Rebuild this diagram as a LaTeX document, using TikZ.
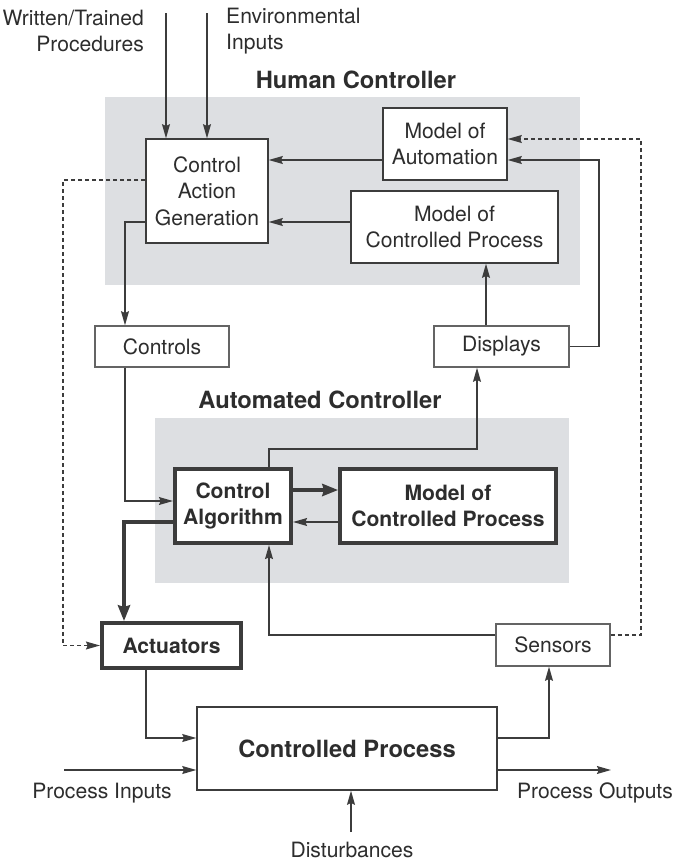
\documentclass[tikz,border=0pt]{standalone}
\usepackage{fontspec}
\setmainfont{TeX Gyre Heros}
\usetikzlibrary{arrows.meta,positioning,calc}
\definecolor{ink}{RGB}{45,45,45}
\definecolor{wire}{RGB}{60,60,60}
\definecolor{boxgray}{RGB}{100,100,100}
\definecolor{panel}{RGB}{221,223,226}

\begin{document}
\begin{tikzpicture}[x=0.02cm, y=-0.02cm,
    every node/.style={text=ink, font=\fontsize{12}{15}\selectfont},
    box/.style={rectangle, draw=wire, fill=white, line width=0.8pt, align=center, inner sep=0pt},
    lightbox/.style={box, draw=boxgray},
    heavybox/.style={box, line width=2.3pt, font=\fontsize{12}{15}\selectfont\bfseries},
    title/.style={font=\fontsize{13.5}{16}\selectfont\bfseries},
    arr/.style={draw=wire, line width=0.8pt, -{Stealth[length=8pt,width=4.5pt,inset=1pt]}},
    heavyarr/.style={draw=wire, line width=1.8pt, -{Stealth[length=9pt,width=7pt,inset=1pt]}},
    cue/.style={arr, dash pattern=on 2.3pt off 1.7pt}
  ]
    \useasboundingbox (0,0) rectangle (673,862);

    % Panels
    \fill[panel] (105,97) rectangle (580,285);
    \fill[panel] (155,418) rectangle (569,583);
    \node[title] (human) at (356,80) {Human Controller};
    \node[title] (auto) at (320,400) {Automated Controller};

    % Human controller boxes
    \node[box, minimum width=2.44cm, minimum height=2.08cm] (cag) at (207,191) {Control\\Action\\Generation};
    \node[box, minimum width=2.48cm, minimum height=1.44cm] (moa) at (445,144) {Model of\\Automation};
    \node[box, minimum width=4.14cm, minimum height=1.44cm] (mcph) at (454.5,227) {Model of\\Controlled Process};

    % Controls and displays
    \node[lightbox, minimum width=2.68cm, minimum height=0.82cm] (ctrl) at (162,346.5) {Controls};
    \node[lightbox, minimum width=2.7cm, minimum height=0.82cm] (disp) at (501.5,346.5) {Displays};

    % Automated controller boxes
    \node[heavybox, minimum width=2.32cm, minimum height=1.48cm] (ca) at (233,506) {Control\\Algorithm};
    \node[heavybox, minimum width=4.32cm, minimum height=1.48cm] (mcpa) at (448,506) {Model of\\Controlled Process};

    % Actuators, sensors, process
    \node[heavybox, minimum width=2.78cm, minimum height=0.9cm] (act) at (171.5,645.5) {Actuators};
    \node[lightbox, minimum width=2.28cm, minimum height=0.84cm] (sens) at (553,645) {Sensors};
    \node[box, minimum width=6cm, minimum height=1.66cm, font=\fontsize{13.5}{16}\selectfont\bfseries] (cp) at (347,748.5) {Controlled Process};

    % Outside labels
    \node[align=right, anchor=east] (wtp) at (150,31) {Written/Trained\\Procedures};
    \node[align=left, anchor=west] (env) at (220,31) {Environmental\\Inputs};
    \node (pin) at (102,793) {Process Inputs};
    \node (pout) at (595,793) {Process Outputs};
    \node (dist) at (352,850) {Disturbances};
    \coordinate (wtpin) at (166,13);
    \coordinate (envin) at (207,13);
    \coordinate (pinin) at (64,770);
    \coordinate (poutend) at (611,770);
    \coordinate (distin) at (351,832);

    % Human controller links
    \draw[arr] (wtpin) -- (wtpin |- cag.north);
    \draw[arr] (envin) -- (envin |- cag.north);
    \draw[arr] (moa.west |- 0,160) -- (cag.east |- 0,160);
    \draw[arr] (mcph.west |- 0,222) -- (cag.east |- 0,222);
    \draw[arr] (cag.west |- 0,222) -| (ctrl.north -| 125,0);
    \draw[arr] (disp.north -| 486,0) -- (mcph.south -| 486,0);
    \draw[arr] (disp.east) -- (599,346.5) |- (moa.east |- 0,160);

    % Automated controller links
    \draw[arr] (ctrl.south -| 125,0) |- (ca.west |- 0,501);
    \draw[arr] (ca.north -| 269,0) -- (269,449) -| (disp.south -| 477,0);
    \draw[heavyarr] (ca.east |- 0,490) -- (mcpa.west |- 0,490);
    \draw[arr] (mcpa.west |- 0,522) -- (ca.east |- 0,522);
    \draw[heavyarr] (ca.west |- 0,522) -| (act.north -| 124,0);
    \draw[arr] (sens.west |- 0,635) -| (ca.south -| 269,0);

    % Dashed paths
    \draw[cue] (cag.west |- 0,180) -| (63,645.5) -- (act.west);
    \draw[cue] (sens.east |- 0,635) -| (641,139) -- (moa.east |- 0,139);

    % Process links
    \draw[arr] (act.south -| 146,0) |- (cp.west |- 0,738);
    \draw[arr] (pinin) -- (cp.west |- pinin);
    \draw[arr] (cp.east |- 0,738) -| (sens.south -| 549,0);
    \draw[arr] (cp.east |- poutend) -- (poutend);
    \draw[arr] (distin) -- (distin |- cp.south);
  \end{tikzpicture}
\end{document}
